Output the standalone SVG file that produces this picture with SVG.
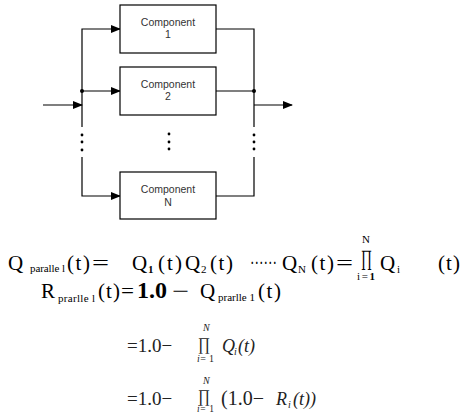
<svg xmlns="http://www.w3.org/2000/svg" width="471" height="414" viewBox="0 0 471 414">
<style>
.box{fill:#fff;stroke:#000;stroke-width:1.2}
.ln{fill:none;stroke:#000;stroke-width:1.2}
.lbl{font-family:"Liberation Sans",Arial,sans-serif;font-size:10.5px;fill:#333;text-anchor:middle}
.dot{fill:#000}
.eq{font-family:"Liberation Serif","Times New Roman",serif;fill:#000}
.big{font-size:21px}
.sub{font-size:11px}
.it{font-style:italic}
.g{fill:#222}
</style>
<defs>
<marker id="ah" markerWidth="10" markerHeight="8" refX="9" refY="4" orient="auto" markerUnits="userSpaceOnUse">
<path d="M0,0 L10,4 L0,8 Z" fill="#000"/>
</marker>
</defs>
<rect width="471" height="414" fill="#fff"/>
<g id="connectors">
<line class="ln" x1="43" y1="105" x2="82" y2="105" marker-end="url(#ah)"/>
<polyline class="ln" points="82,127 82,29 120,29" marker-end="url(#ah)"/>
<line class="ln" x1="82" y1="91" x2="120" y2="91" marker-end="url(#ah)"/>
<polyline class="ln" points="82,157 82,196 120,196" marker-end="url(#ah)"/>
<polyline class="ln" points="216,29 254,29 254,127"/>
<line class="ln" x1="216" y1="91" x2="254" y2="91"/>
<polyline class="ln" points="216,196 254,196 254,157"/>
<line class="ln" x1="254" y1="105" x2="292" y2="105" marker-end="url(#ah)"/>
<circle class="dot" cx="82" cy="91" r="2"/>
<circle class="dot" cx="254" cy="91" r="2"/>
<circle class="dot" cx="82" cy="135" r="1.4"/>
<circle class="dot" cx="82" cy="142" r="1.4"/>
<circle class="dot" cx="82" cy="150" r="1.4"/>
<circle class="dot" cx="254" cy="135" r="1.4"/>
<circle class="dot" cx="254" cy="142" r="1.4"/>
<circle class="dot" cx="254" cy="149" r="1.4"/>
<circle class="dot" cx="169" cy="134" r="1.4"/>
<circle class="dot" cx="169" cy="142" r="1.4"/>
<circle class="dot" cx="169" cy="149" r="1.4"/>
</g>
<g id="component1">
<rect class="box" x="120" y="5" width="96" height="48"/>
<text class="lbl" x="168" y="26">Component</text>
<text class="lbl" x="168" y="38">1</text>
</g>
<g id="component2">
<rect class="box" x="120" y="67" width="96" height="48"/>
<text class="lbl" x="168" y="88">Component</text>
<text class="lbl" x="168" y="100">2</text>
</g>
<g id="componentN">
<rect class="box" x="120" y="172" width="96" height="47"/>
<text class="lbl" x="168" y="193">Component</text>
<text class="lbl" x="168" y="206">N</text>
</g>
<g id="equations">
<text class="eq big" x="8" y="270">Q</text>
<text class="eq sub" x="30" y="272" textLength="35">paralle l</text>
<text class="eq big" x="67" y="270" textLength="23">(t)</text>
<text class="eq big" x="92" y="270" textLength="17" lengthAdjust="spacingAndGlyphs">=</text>
<text class="eq big" x="132" y="270">Q</text>
<text class="eq sub" x="148" y="273" font-weight="bold">1</text>
<text class="eq big" x="158" y="270" textLength="24">(t)</text>
<text class="eq big" x="185" y="270">Q</text>
<text class="eq sub" x="201" y="273">2</text>
<text class="eq big" x="210" y="270" textLength="23">(t)</text>
<text class="eq big" x="250" y="270" textLength="27" lengthAdjust="spacingAndGlyphs">······</text>
<text class="eq big" x="282" y="270">Q</text>
<text class="eq sub" x="298" y="273" font-size="10">N</text>
<text class="eq big" x="311" y="270" textLength="23">(t)</text>
<text class="eq big" x="336" y="270" textLength="17" lengthAdjust="spacingAndGlyphs">=</text>
<text class="eq" x="361" y="265" font-size="22" textLength="11" lengthAdjust="spacingAndGlyphs">∏</text>
<text class="eq sub" x="362" y="243">N</text>
<text class="eq sub" x="357" y="280" textLength="18">i = <tspan font-weight="bold">1</tspan></text>
<text class="eq big" x="380" y="270">Q</text>
<text class="eq sub" x="397" y="273">i</text>
<text class="eq big" x="438" y="270" textLength="22">(t)</text>

<text class="eq big" x="41" y="298">R</text>
<text class="eq sub" x="58" y="302" textLength="37">prarlle l</text>
<text class="eq big" x="98" y="298" textLength="22">(t)</text>
<text class="eq big" x="121" y="298" textLength="13" lengthAdjust="spacingAndGlyphs">=</text>
<text class="eq" x="137" y="298" font-size="24" font-weight="bold">1.0</text>
<text class="eq big" x="172" y="298" textLength="17" lengthAdjust="spacingAndGlyphs">−</text>
<text class="eq big" x="200" y="298">Q</text>
<text class="eq sub" x="218" y="301" textLength="37">prarlle 1</text>
<text class="eq big" x="258" y="298" textLength="23">(t)</text>

<text class="eq g" x="127" y="352" font-size="19">=1.0−</text>
<text class="eq g" x="198" y="350" font-size="18" textLength="12" lengthAdjust="spacingAndGlyphs">∏</text>
<text class="eq g it" x="203" y="331" font-size="10">N</text>
<text class="eq g" x="197" y="362" font-size="10" textLength="17"><tspan font-style="italic">i</tspan>= 1</text>
<text class="eq g it" x="222" y="352" font-size="18">Q</text>
<text class="eq g it" x="234" y="355" font-size="10">i</text>
<text class="eq g it" x="238" y="352" font-size="18">(t)</text>

<text class="eq g" x="127" y="405" font-size="19">=1.0−</text>
<text class="eq g" x="198" y="402" font-size="18" textLength="12" lengthAdjust="spacingAndGlyphs">∏</text>
<text class="eq g it" x="203" y="384" font-size="10">N</text>
<text class="eq g" x="197" y="412" font-size="9.5" textLength="17"><tspan font-style="italic">i</tspan>= 1</text>
<text class="eq g" x="221" y="405" font-size="20">(1.0−</text>
<text class="eq g it" x="276" y="405" font-size="18">R</text>
<text class="eq g it" x="288" y="408" font-size="10">i</text>
<text class="eq g it" x="293" y="405" font-size="18">(t))</text>
</g>
</svg>
